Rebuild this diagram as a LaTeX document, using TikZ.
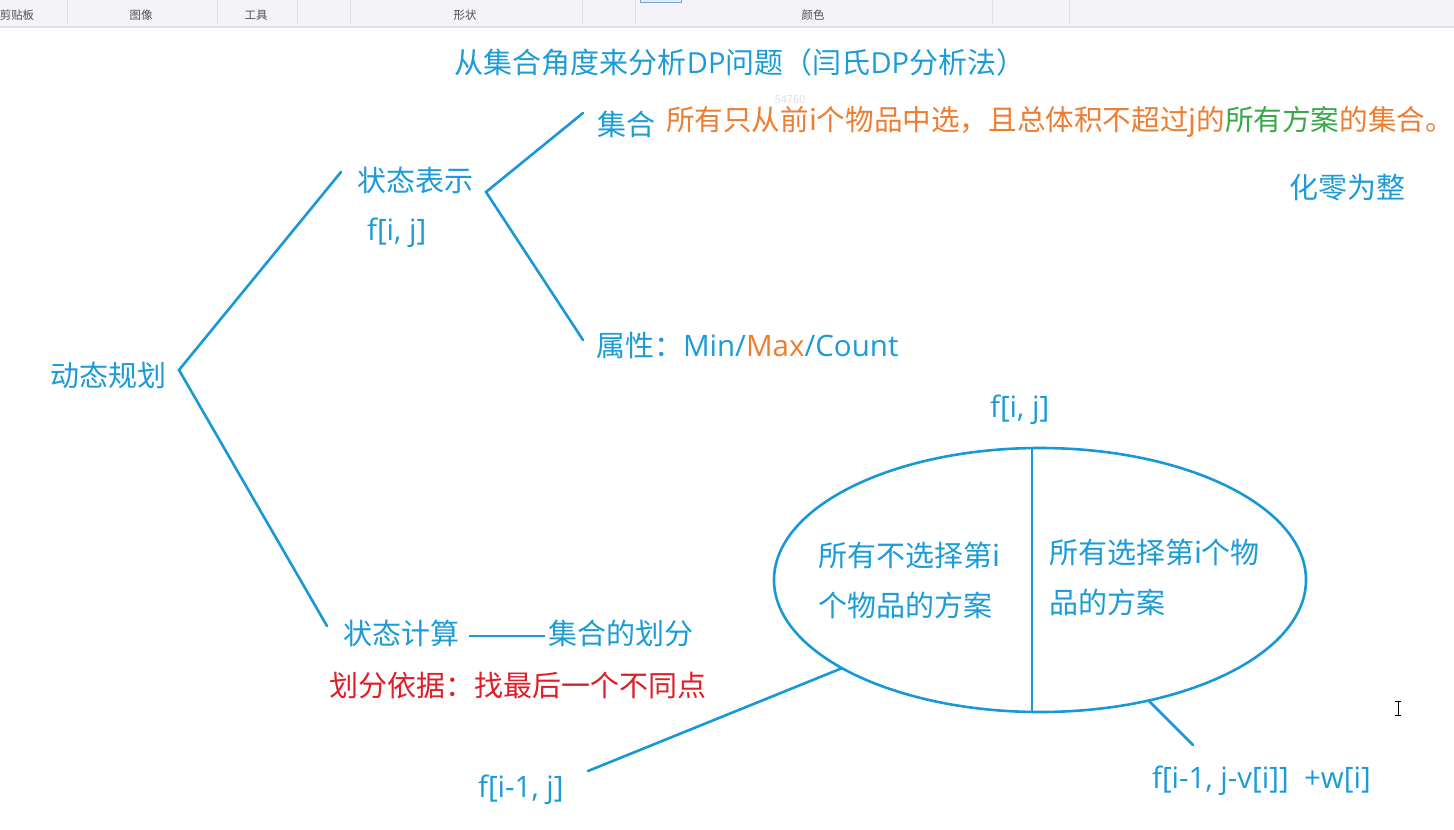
\documentclass[tikz,border=0pt]{standalone}
\usepackage{fontspec}
\setmainfont{Noto Sans CJK SC}
\newfontfamily\latf{Open Sans}
\usetikzlibrary{shapes.geometric}
\definecolor{cblue}{RGB}{27,155,215}
\definecolor{lblue}{RGB}{24,152,214}
\definecolor{corange}{RGB}{237,125,49}
\definecolor{cgreen}{RGB}{56,168,72}
\definecolor{cred}{RGB}{222,30,40}
\definecolor{tbbg}{RGB}{244,244,248}
\definecolor{tbline}{RGB}{222,222,228}
\definecolor{tbgray}{RGB}{80,80,80}
\definecolor{faint}{RGB}{222,222,222}
\begin{document}
\begin{tikzpicture}[x=1pt,y=-1pt,
  txt/.style={inner sep=0pt, outer sep=0pt, text=cblue, font=\fontsize{29}{34}\selectfont, anchor=west},
  lat/.style={txt, font=\latf\fontsize{29.5}{34}\selectfont},
  conn/.style={draw=lblue, line width=2.6pt, line cap=round},
  tb/.style={inner sep=0pt, text=tbgray, font=\fontsize{11.5}{13}\selectfont},
  sepline/.style={draw=tbline, line width=0.8pt}]
\path[use as bounding box, fill=white] (0,0) rectangle (1454,830);
\begin{scope}
\clip (0,0) rectangle (1454,830);
% toolbar
\fill[tbbg] (0,0) rectangle (1454,27);
\draw[tbline, line width=1.2pt] (0,27) -- (1454,27);
\foreach \x in {67,217,297,350,582,635,992,1069} \draw[sepline] (\x,0) -- (\x,24);
\draw[draw={rgb,255:red,120;green,165;blue,215}, fill={rgb,255:red,225;green,236;blue,248}, line width=0.8pt] (640,-5) rectangle (681,2);
\node[tb] (tb1) at (17,15) {剪贴板};
\node[tb] (tb2) at (141,15) {图像};
\node[tb] (tb3) at (256,15) {工具};
\node[tb] (tb4) at (465,15) {形状};
\node[tb] (tb5) at (813,15) {颜色};
\end{scope}
% faint number
\node[inner sep=0pt, text=faint, font=\fontsize{11}{13}\selectfont] (num) at (790,100) {54760};
% title
\node[txt, anchor=center] (title) at (740,62) {从集合角度来分析{\latf DP}问题（闫氏{\latf DP}分析法）};
% tree
\node[txt] (dp) at (50,375) {动态规划};
\node[txt] (rep) at (357,180) {状态表示};
\node[lat] (fij1) at (367,233) {f[i, j]};
\node[txt] (set) at (597,124) {集合};
\node[txt, text=corange, font=\fontsize{28.6}{34}\selectfont] (desc) at (666,122) {所有只从前i个物品中选，且总体积不超过j的\textcolor{cgreen}{所有方案}的集合。};
\node[txt] (zero) at (1289,188) {化零为整};
\node[txt] (attr) at (596,345) {属性：{\latf\fontsize{29.5}{34}\selectfont Min/\textcolor{corange}{Max}/Count}};
\node[txt] (calc) at (343,633) {状态计算};
\node[txt] (part) at (548,633) {集合的划分};
\node[txt, text=cred] (basis) at (329,686) {划分依据：找最后一个不同点};
\node[lat] (fprev) at (478,790) {f[i-1, j]};
\node[lat] (fij2) at (990,410) {f[i, j]};
\node[lat] (fsel) at (1152,781) {f[i-1, j-v[i]]~~+w[i]};

\coordinate (v1) at (179,370);
\coordinate (v1a) at (341,172);
\coordinate (v1b) at (327,626);
\coordinate (v2) at (486,192);
\coordinate (v2a) at (583,113);
\coordinate (v2b) at (583,340);
\draw[conn] (v1a) -- (v1) -- (v1b);
\draw[conn] (v2a) -- (v2) -- (v2b);
\draw[conn, line cap=butt, shorten <=10pt, shorten >=3pt] ([yshift=-3pt]calc.east) -- ([yshift=-3pt]part.west);

% ellipse
\node[ellipse, draw=lblue, line width=2.6pt, minimum width=532pt, minimum height=264pt, inner sep=0pt, outer sep=0pt] (ell) at (1040,580) {};
\coordinate (etop) at (1032,449);
\coordinate (ebot) at (1032,711);
\draw[conn, line cap=butt] (etop) -- (ebot);
\node[txt, align=left, font=\fontsize{29}{50}\selectfont] (nosel) at (818,580) {所有不选择第i\\个物品的方案};
\node[txt, align=left, font=\fontsize{29}{50}\selectfont] (sel) at (1049,577) {所有选择第i个物\\品的方案};
\coordinate (fpend) at (588,771);
\coordinate (fsend) at (1193,745);
\draw[conn] (ell.204) -- (fpend);
\draw[conn] (ell.312) -- (fsend);

% text cursor
\draw[black, line width=1pt] (1398,701) -- (1398,715) (1395,701) -- (1401,701) (1395,715) -- (1401,715);
\end{tikzpicture}
\end{document}
